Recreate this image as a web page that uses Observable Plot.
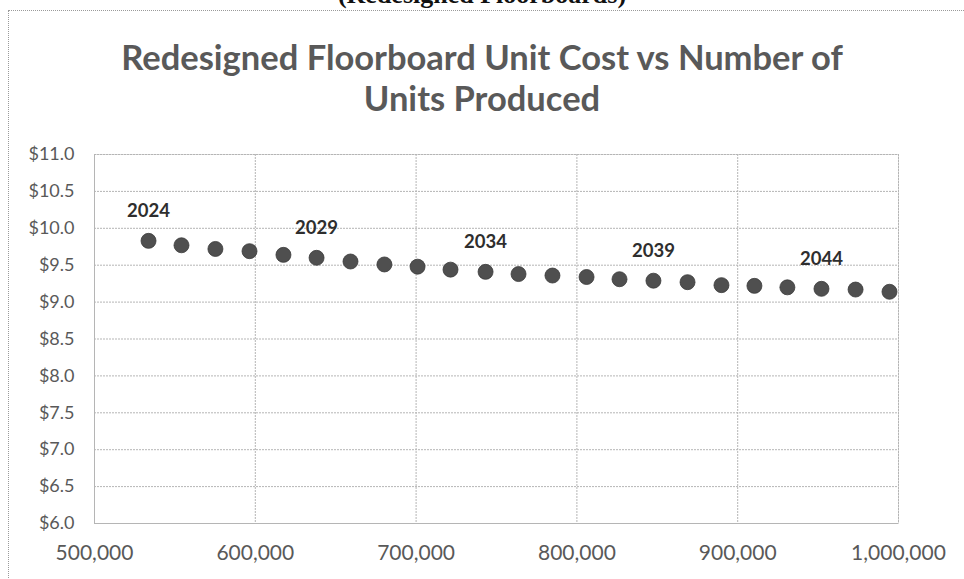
<!DOCTYPE html>
<html>
<head>
<meta charset="utf-8">
<script src="https://cdn.jsdelivr.net/npm/d3@7"></script>
<script src="https://cdn.jsdelivr.net/npm/@observablehq/plot@0.6"></script>
<style>
  html, body { margin: 0; padding: 0; background: #fff; }
  #wrap { position: relative; width: 964px; height: 579px; overflow: hidden; }
  #border { position: absolute; left: 8px; top: 10px; width: 960px; height: 600px;
            border: 1px dotted #9a9a9a; box-sizing: border-box; }
  #doc-title { position: absolute; left: 0; width: 964px; top: -20px; text-align: center;
               font-family: "Liberation Serif", serif; font-weight: bold; font-size: 26px; color: #111; }
  #title { position: absolute; left: 0; width: 964px; top: 36px; text-align: center;
           font-family: Lato, sans-serif; font-weight: bold; font-size: 34.5px; line-height: 41px; color: #595959; }
  #chart { position: absolute; left: 0; top: 0; }
</style>
</head>
<body>
<div id="wrap">
  <div id="chart"></div>
  <div id="border"></div>
  <div id="doc-title">(Redesigned Floorboards)</div>
  <div id="title">Redesigned Floorboard Unit Cost vs Number of<br>Units Produced</div>
</div>
<script>
// Data
const years = [2024, 2025, 2026, 2027, 2028, 2029, 2030, 2031, 2032, 2033, 2034, 2035,
               2036, 2037, 2038, 2039, 2040, 2041, 2042, 2043, 2044, 2045, 2046];
const unitsProduced = [533600, 554100, 575200, 596400, 617500, 638100, 659200, 680300,
                       700900, 721400, 743200, 763700, 784800, 806000, 826500, 847600,
                       868800, 889900, 910400, 930900, 952100, 973300, 994400];
const unitCost = [9.83, 9.77, 9.72, 9.69, 9.64, 9.60, 9.55, 9.51, 9.48, 9.44, 9.41, 9.38,
                  9.36, 9.34, 9.31, 9.29, 9.27, 9.23, 9.22, 9.20, 9.18, 9.17, 9.14];
const labeledYears = [2024, 2029, 2034, 2039, 2044];
const xTicks = [500000, 600000, 700000, 800000, 900000, 1000000];
const yTicks = [6.0, 6.5, 7.0, 7.5, 8.0, 8.5, 9.0, 9.5, 10.0, 10.5, 11.0];

const data = years.map((yr, i) => ({year: yr, units: unitsProduced[i], cost: unitCost[i]}));
const labeled = data.filter(d => labeledYears.includes(d.year));

const gridColor = "#b5b5b5";
const axisColor = "#595959";

const chart = Plot.plot({
  width: 964,
  height: 579,
  marginTop: 154,
  marginLeft: 94,
  marginRight: 66,
  marginBottom: 56,
  style: {background: "transparent", fontFamily: "Lato, sans-serif"},
  x: {domain: [500000, 1000000], ticks: xTicks, tickFormat: d3.format(","), tickSize: 0, tickPadding: 22},
  y: {domain: [6, 11], ticks: yTicks, tickFormat: d => "$" + d.toFixed(1), tickSize: 0, tickPadding: 20},
  marks: [
    Plot.gridX(xTicks, {stroke: gridColor, strokeOpacity: 1, strokeDasharray: "2,1"}),
    Plot.gridY(yTicks, {stroke: gridColor, strokeOpacity: 1, strokeDasharray: "2,1"}),
    Plot.frame({stroke: gridColor, strokeDasharray: "2,1"}),
    Plot.axisX({ticks: xTicks, tickFormat: d3.format(","), tickSize: 0, tickPadding: 22,
                fontSize: 21, fill: axisColor, label: null}),
    Plot.axisY({ticks: yTicks, tickFormat: d => "$" + d.toFixed(1), tickSize: 0, tickPadding: 20,
                fontSize: 18, fill: axisColor, label: null}),
    Plot.dot(data, {x: "units", y: "cost", r: 7.5, fill: "#4f4f4f", stroke: "#3a3a3a", strokeWidth: 0.8}),
    Plot.text(labeled, {x: "units", y: "cost", text: d => String(d.year), dy: -30,
                        fontSize: 18.5, fontWeight: "bold", fill: "#2e2e2e"})
  ]
});
document.getElementById("chart").appendChild(chart);
</script>
</body>
</html>
